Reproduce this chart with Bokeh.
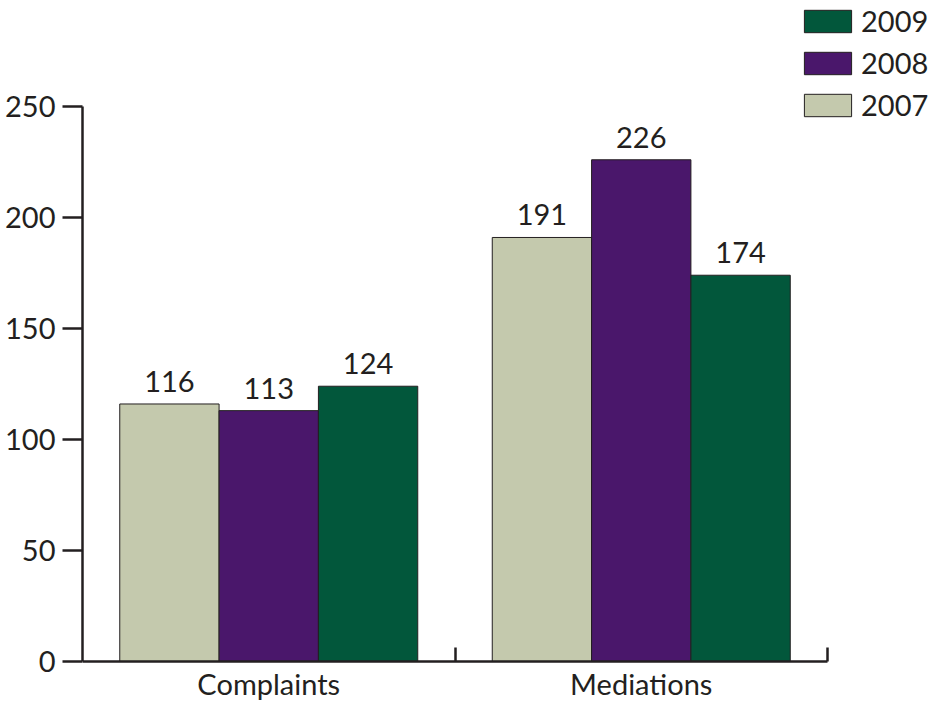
from bokeh.plotting import figure
from bokeh.models import ColumnDataSource, Range1d, FixedTicker, Legend, LegendItem, LabelSet, LinearAxis
from bokeh.transform import dodge
from bokeh.core.properties import value
from bokeh.embed import file_html
from bokeh.resources import INLINE

categories = ["Complaints", "Mediations"]
years = ["2007", "2008", "2009"]
values_2007 = [116, 191]
values_2008 = [113, 226]
values_2009 = [124, 174]
y_ticks = [0, 50, 100, 150, 200, 250]

colors = {"2007": "#C4C9AD", "2008": "#4A176B", "2009": "#02573B"}
INK = "#231F20"
FONT = "Lato"
FS = "29px"

W, H = 934, 703
LEFT = 82
PX_PER_CAT = 372.5
PX_PER_UNIT = 2.22
ZERO_FROM_BOTTOM = 42
TOP_FROM_ZERO = 661

n = len(categories)
centers = [i + 0.5 for i in range(n)]
x_end = (W - LEFT) / PX_PER_CAT
y_start = -ZERO_FROM_BOTTOM / PX_PER_UNIT
y_end = TOP_FROM_ZERO / PX_PER_UNIT

src = ColumnDataSource(dict(center=centers, cat=categories,
                            v2007=values_2007, v2008=values_2008, v2009=values_2009,
                            t2007=[str(v) for v in values_2007],
                            t2008=[str(v) for v in values_2008],
                            t2009=[str(v) for v in values_2009]))

p = figure(width=W, height=H, x_range=Range1d(0, x_end), y_range=Range1d(y_start, y_end),
           output_backend="svg", toolbar_location=None,
           x_axis_location=None, y_axis_location=None,
           min_border_left=LEFT, min_border_right=0, min_border_top=0, min_border_bottom=0)
p.outline_line_color = None
p.xgrid.visible = False
p.ygrid.visible = False
p.background_fill_color = "white"
p.border_fill_color = "white"

bw = 0.8 / 3
offsets = [-bw, 0.0, bw]
renderers = {}
for yr, off in zip(years, offsets):
    renderers[yr] = p.vbar(x=dodge("center", off), top="v" + yr, width=bw, bottom=0,
                           source=src, fill_color=colors[yr], line_color=INK, line_width=1)
    lbl = LabelSet(x=dodge("center", off), y="v" + yr, text="t" + yr, source=src,
                   text_align="center", text_baseline="alphabetic", y_offset=12,
                   text_font=value(FONT), text_font_size=value(FS), text_color=INK)
    p.add_layout(lbl)

ya = LinearAxis(ticker=FixedTicker(ticks=y_ticks, minor_ticks=[]), bounds=(0, max(y_ticks)))
ya.axis_line_color = INK
ya.axis_line_width = 2.5
ya.major_tick_line_color = INK
ya.major_tick_line_width = 2.5
ya.major_tick_out = 20
ya.major_tick_in = 0
ya.minor_tick_line_color = None
ya.major_label_standoff = 7
ya.major_label_text_font = FONT
ya.major_label_text_font_size = FS
ya.major_label_text_color = INK
p.add_layout(ya, "left")

xa = LinearAxis(ticker=FixedTicker(ticks=centers, minor_ticks=[i + 1 for i in range(n)]),
                bounds=(0, n), fixed_location=0,
                major_label_overrides={c: name for c, name in zip(centers, categories)})
xa.axis_line_color = INK
xa.axis_line_width = 2.5
xa.major_tick_line_color = None
xa.major_tick_out = 0
xa.major_tick_in = 0
xa.minor_tick_line_color = INK
xa.minor_tick_line_width = 2.5
xa.minor_tick_in = 14
xa.minor_tick_out = 0
xa.major_label_standoff = 4
xa.major_label_text_font = FONT
xa.major_label_text_font_size = FS
xa.major_label_text_color = INK
p.add_layout(xa, "below")

legend = Legend(items=[LegendItem(label=yr, renderers=[renderers[yr]]) for yr in reversed(years)],
                location=(716, 581), orientation="vertical",
                glyph_width=59, glyph_height=28, label_height=22, spacing=7,
                label_standoff=4, padding=0, margin=0,
                border_line_color=None, background_fill_alpha=0,
                label_text_font=FONT, label_text_font_size=FS, label_text_color=INK)
p.add_layout(legend)

open("out.html", "w").write(file_html(p, INLINE))
